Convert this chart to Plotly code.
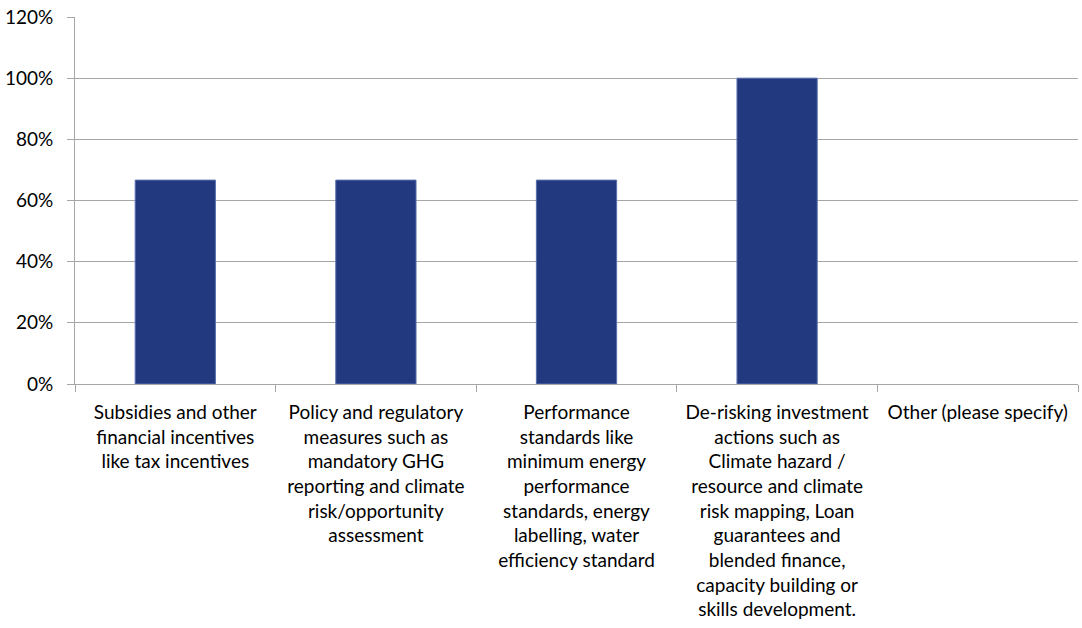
import plotly.graph_objects as go

categories = [
    "Subsidies and other<br>financial incentives<br>like tax incentives",
    "Policy and regulatory<br>measures such as<br>mandatory GHG<br>reporting and climate<br>risk/opportunity<br>assessment",
    "Performance<br>standards like<br>minimum energy<br>performance<br>standards, energy<br>labelling, water<br>efficiency standard",
    "De-risking investment<br>actions such as<br>Climate hazard /<br>resource and climate<br>risk mapping, Loan<br>guarantees and<br>blended finance,<br>capacity building or<br>skills development.",
    "Other (please specify)",
]
values = [0.6667, 0.6667, 0.6667, 1.0, 0.0]
y_ticks = [0, 0.2, 0.4, 0.6, 0.8, 1.0, 1.2]

fig = go.Figure()
fig.add_trace(go.Bar(
    x=categories, y=values, width=0.4,
    marker=dict(color="#23397F",
                line=dict(color="#5A70AE", width=[1 if v > 0 else 0 for v in values])),
    hoverinfo="skip",
))

font_family = "Lato, 'Open Sans', sans-serif"
fig.update_layout(
    width=1082, height=628,
    margin=dict(l=75, r=4, t=17, b=244),
    plot_bgcolor="white", paper_bgcolor="white",
    showlegend=False,
    font=dict(family=font_family, size=19, color="black"),
)
fig.update_xaxes(
    type="category", tickson="boundaries", automargin=False,
    ticks="outside", ticklen=7, tickcolor="#A6A6A6",
    showline=True, linecolor="#A6A6A6", linewidth=1,
    showgrid=False, tickangle=0, ticklabelstandoff=11,
    tickfont=dict(size=19),
)
fig.update_yaxes(
    range=[0, 1.2], tickvals=y_ticks, tickformat=".0%", automargin=False,
    ticks="outside", ticklen=7, tickcolor="#A6A6A6",
    showline=True, linecolor="#A6A6A6", linewidth=1,
    showgrid=True, gridcolor="#A6A6A6", gridwidth=1,
    zeroline=False, tickfont=dict(size=19), ticklabelstandoff=10,
)
fig.write_html("out.html", config={"displayModeBar": False},
               post_script="document.body.style.margin='0';document.body.style.overflow='hidden';")
